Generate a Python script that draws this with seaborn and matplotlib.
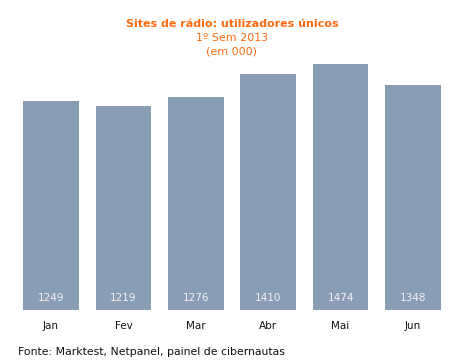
import matplotlib
matplotlib.use('Agg')
import matplotlib.pyplot as plt
import matplotlib.transforms as mtransforms
import seaborn as sns
import pandas as pd

months = ['Jan', 'Fev', 'Mar', 'Abr', 'Mai', 'Jun']
users = [1249, 1219, 1276, 1410, 1474, 1348]

sns.set_style('white')
plt.rcParams['font.family'] = ['DejaVu Sans']

df = pd.DataFrame({'mes': months, 'utilizadores': users})

fig = plt.figure(figsize=(4.64, 3.64), dpi=100)
ax = fig.add_axes([14.8 / 464, 54 / 364, 434.4 / 464, 247 / 364])

sns.barplot(data=df, x='mes', y='utilizadores', color='#899db5', saturation=1,
            width=0.77, linewidth=0, ax=ax)
ax.set_xlim(-0.5, 5.5)
ax.set_ylim(0, max(users) * 1.003)
ax.set_xlabel('')
ax.set_ylabel('')
ax.set_yticks([])
ax.tick_params(axis='x', length=0, labelsize=7.5, pad=8, colors='#111111')
sns.despine(ax=ax, left=True, bottom=True)

# value labels sit just above the base of each bar
off = mtransforms.offset_copy(ax.transData, fig=fig, x=0, y=5, units='points')
for i, v in enumerate(users):
    ax.text(i, 0, str(v), ha='center', va='bottom', fontsize=7.5,
            color='#f0f2f5', transform=off)

fig.text(0.5, 1 - 24 / 364, 'Sites de rádio: utilizadores únicos', ha='center', va='center',
         fontsize=8, fontweight='bold', color='#ff6a0f')
fig.text(0.5, 1 - 38 / 364, '1º Sem 2013', ha='center', va='center',
         fontsize=8, color='#ff6a0f')
fig.text(0.5, 1 - 51 / 364, '(em 000)', ha='center', va='center',
         fontsize=8, color='#ff6a0f')
fig.text(18 / 464, 1 - 352 / 364, 'Fonte: Marktest, Netpanel, painel de cibernautas',
         ha='left', va='center', fontsize=7.8, color='#111111')

fig.savefig('out.png', dpi=100)
